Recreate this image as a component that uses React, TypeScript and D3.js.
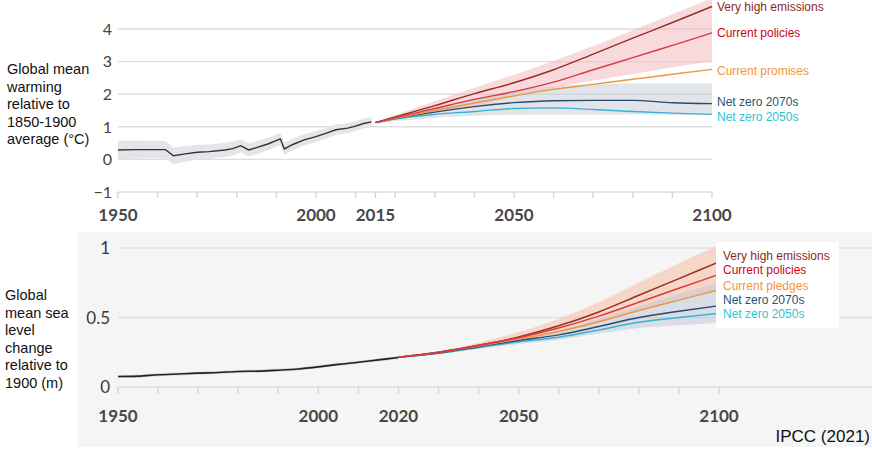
import React from "react";
import * as d3 from "d3";

// warming panel (top)
const histYears = [1950, 1954, 1958, 1962, 1964, 1967, 1970, 1973, 1977, 1979, 1981, 1983, 1985, 1988, 1991, 1992, 1994, 1997, 2000, 2003, 2005, 2008, 2010, 2012, 2014];
const histWarming = [0.29, 0.3, 0.3, 0.3, 0.11, 0.17, 0.22, 0.24, 0.29, 0.33, 0.42, 0.29, 0.36, 0.48, 0.63, 0.32, 0.45, 0.6, 0.7, 0.82, 0.91, 0.96, 1.02, 1.1, 1.15];
const histSpread = [0.28, 0.28, 0.27, 0.27, 0.25, 0.24, 0.23, 0.22, 0.22, 0.21, 0.2, 0.2, 0.2, 0.19, 0.18, 0.18, 0.18, 0.17, 0.17, 0.16, 0.16, 0.15, 0.15, 0.15, 0.15];

const scenYears = [2015, 2020, 2030, 2040, 2050, 2060, 2070, 2080, 2090, 2100];
const veryHigh = [1.13, 1.3, 1.65, 2.02, 2.35, 2.75, 3.23, 3.72, 4.2, 4.69];
const currentPolicies = [1.13, 1.28, 1.56, 1.84, 2.08, 2.37, 2.75, 3.12, 3.5, 3.88];
const currentPromises = [1.13, 1.26, 1.5, 1.73, 1.95, 2.15, 2.3, 2.46, 2.61, 2.76];
const netZero2070 = [1.13, 1.25, 1.45, 1.62, 1.74, 1.8, 1.81, 1.81, 1.74, 1.71];
const netZero2050 = [1.13, 1.24, 1.38, 1.47, 1.56, 1.58, 1.53, 1.47, 1.42, 1.38];
const highBandTop = [1.15, 1.36, 1.78, 2.2, 2.6, 3.02, 3.48, 3.96, 4.45, 4.95];
const highBandBottom = [1.11, 1.22, 1.42, 1.62, 1.92, 2.2, 2.42, 2.62, 2.82, 3.0];
const lowBandTop = [1.15, 1.32, 1.6, 1.88, 2.1, 2.25, 2.3, 2.33, 2.33, 2.33];
const lowBandBottom = [1.11, 1.17, 1.28, 1.34, 1.37, 1.38, 1.38, 1.38, 1.37, 1.36];

const warmTicksY = [-1, 0, 1, 2, 3, 4];
const warmLabelYears = [1950, 2000, 2015, 2050, 2100];

// sea level panel (bottom)
const seaHistYears = [1950, 1955, 1960, 1965, 1970, 1975, 1980, 1985, 1990, 1995, 2000, 2005, 2010, 2015, 2020];
const seaHist = [0.075, 0.078, 0.088, 0.094, 0.1, 0.104, 0.112, 0.114, 0.121, 0.13, 0.145, 0.163, 0.178, 0.195, 0.212];

const seaYears = [2020, 2030, 2040, 2050, 2060, 2070, 2080, 2090, 2100];
const seaVeryHigh = [0.214, 0.25, 0.3, 0.36, 0.44, 0.54, 0.66, 0.78, 0.9];
const seaCurrentPolicies = [0.214, 0.25, 0.3, 0.355, 0.425, 0.51, 0.61, 0.71, 0.81];
const seaPledges = [0.214, 0.248, 0.295, 0.345, 0.4, 0.47, 0.55, 0.625, 0.7];
const seaNetZero2070 = [0.214, 0.245, 0.29, 0.335, 0.375, 0.435, 0.5, 0.545, 0.585];
const seaNetZero2050 = [0.214, 0.243, 0.285, 0.325, 0.358, 0.41, 0.465, 0.5, 0.53];
const seaHighTop = [0.216, 0.258, 0.318, 0.395, 0.49, 0.61, 0.75, 0.89, 1.02];
const seaHighBottom = [0.212, 0.24, 0.28, 0.33, 0.39, 0.46, 0.55, 0.63, 0.7];
const seaLowTop = [0.216, 0.25, 0.295, 0.345, 0.41, 0.49, 0.58, 0.67, 0.75];
const seaLowBottom = [0.212, 0.237, 0.273, 0.31, 0.34, 0.385, 0.425, 0.445, 0.46];

const seaTicksY = [0, 0.5, 1];
const seaLabelYears = [1950, 2000, 2020, 2050, 2100];

const warmTitle = ["Global mean", "warming", "relative to", "1850-1900", "average (°C)"];
const seaTitle = ["Global", "mean sea", "level", "change", "relative to", "1900 (m)"];

const warmLegend = ["Very high emissions", "Current policies", "Current promises", "Net zero 2070s", "Net zero 2050s"];
const seaLegend = ["Very high emissions", "Current policies", "Current pledges", "Net zero 2070s", "Net zero 2050s"];

const lineColors = ["#9a2c24", "#d93a42", "#f0963c", "#2b4a6c", "#39b2d9"];
const labelColors = ["#8b2b1e", "#d0021b", "#f7943a", "#1c5478", "#2cc5cf"];
// draw order so the red "current policies" line ends up on top
const drawOrder = [4, 3, 2, 0, 1];

const tickFont = "Lato, 'DejaVu Sans', sans-serif";
const textFont = "'Liberation Sans', Arial, sans-serif";

export default function App() {
  // top scales
  const xT = d3.scaleLinear().domain([1950, 2100]).range([118, 712]);
  const yT = d3.scaleLinear().domain([-1, 4]).range([192, 29]);
  // bottom scales
  const xB = d3.scaleLinear().domain([1950, 2100]).range([118, 719]);
  const yB = d3.scaleLinear().domain([0, 1]).range([387, 248]);

  const lineT = (ys: number[], xs: number[], curve = d3.curveMonotoneX) =>
    d3.line<number>().x((_, i) => xT(xs[i])).y((d) => yT(d)).curve(curve)(ys) || "";
  const areaT = (lo: number[], hi: number[], xs: number[], curve = d3.curveMonotoneX) =>
    d3.area<number>().x((_, i) => xT(xs[i])).y0((_, i) => yT(lo[i])).y1((d) => yT(d)).curve(curve)(hi) || "";
  const lineB = (ys: number[], xs: number[]) =>
    d3.line<number>().x((_, i) => xB(xs[i])).y((d) => yB(d)).curve(d3.curveMonotoneX)(ys) || "";
  const areaB = (lo: number[], hi: number[], xs: number[]) =>
    d3.area<number>().x((_, i) => xB(xs[i])).y0((_, i) => yB(lo[i])).y1((d) => yB(d)).curve(d3.curveMonotoneX)(hi) || "";

  const histLo = histWarming.map((v, i) => v - histSpread[i]);
  const histHi = histWarming.map((v, i) => v + histSpread[i]);

  const warmSeries = [veryHigh, currentPolicies, currentPromises, netZero2070, netZero2050];
  const seaSeries = [seaVeryHigh, seaCurrentPolicies, seaPledges, seaNetZero2070, seaNetZero2050];

  const tickYearsT = d3.range(1950, 2101, 10).concat([2015]);
  const tickYearsB = d3.range(1950, 2101, 10);

  const warmLabelY = [10.5, 36.7, 74.6, 106.3, 121.3];
  const seaLabelY = [259.5, 273.5, 289.5, 304, 318];

  return (
    <svg width={872} height={450} style={{ position: "absolute", left: 0, top: 0 }}>
      <rect x={0} y={0} width={872} height={450} fill="#fff" />

      {/* ---------- top panel ---------- */}
      {warmTicksY.map((t) => (
        <g key={t}>
          <line x1={118} x2={712} y1={yT(t)} y2={yT(t)} stroke="#dedede" strokeWidth={1.4} />
          <text x={112} y={yT(t)} dy="0.36em" textAnchor="end" fontFamily={tickFont} fontSize={16} fill="#444">
            {t < 0 ? "\u2212" + Math.abs(t) : t}
          </text>
        </g>
      ))}
      {tickYearsT.map((yr) => (
        <line key={yr} x1={xT(yr)} x2={xT(yr)} y1={yT(-1)} y2={yT(-1) + 6} stroke="#d4d4d4" strokeWidth={1.4} />
      ))}
      {warmLabelYears.map((yr) => (
        <text key={yr} x={xT(yr)} y={221} textAnchor="middle" fontFamily={tickFont} fontWeight={700} fontSize={17} fill="#484848">
          {yr}
        </text>
      ))}

      <path d={areaT(histLo, histHi, histYears, d3.curveLinear)} fill="#e4e5e8" />
      <path d={lineT(histWarming, histYears, d3.curveLinear)} fill="none" stroke="#333" strokeWidth={1.4} />

      <path d={areaT(highBandBottom, highBandTop, scenYears)} fill="#f3b5ba" fillOpacity={0.5} />
      <path d={areaT(lowBandBottom, lowBandTop, scenYears)} fill="#c9ced6" fillOpacity={0.55} />
      {drawOrder.map((i) => (
        <path key={i} d={lineT(warmSeries[i], scenYears)} fill="none" stroke={lineColors[i]} strokeWidth={1.4} />
      ))}
      {warmLegend.map((l, i) => (
        <text key={l} x={717} y={warmLabelY[i]} fontFamily={textFont} fontSize={12} fill={labelColors[i]}>
          {l}
        </text>
      ))}

      {warmTitle.map((l, i) => (
        <text key={l} x={7} y={74 + i * 17.5} fontFamily={textFont} fontSize={14.5} fill="#111">
          {l}
        </text>
      ))}

      {/* ---------- bottom panel ---------- */}
      <rect x={78} y={232} width={794} height={215} fill="#f4f5f4" />
      {seaTicksY.map((t) => (
        <g key={t}>
          <line x1={118} x2={872} y1={yB(t)} y2={yB(t)} stroke="#e0e1e0" strokeWidth={1.4} />
          <text x={110} y={yB(t)} dy="0.36em" textAnchor="end" fontFamily={tickFont} fontSize={17} fill="#3a3a3a">
            {t}
          </text>
        </g>
      ))}
      {tickYearsB.map((yr) => (
        <line key={yr} x1={xB(yr)} x2={xB(yr)} y1={yB(0)} y2={yB(0) + 7} stroke="#d6d6d6" strokeWidth={1.4} />
      ))}
      {seaLabelYears.map((yr) => (
        <text key={yr} x={xB(yr)} y={422} textAnchor="middle" fontFamily={tickFont} fontWeight={700} fontSize={17} fill="#484848">
          {yr}
        </text>
      ))}

      <path d={lineB(seaHist, seaHistYears)} fill="none" stroke="#bbb" strokeWidth={3} strokeOpacity={0.5} />
      <path d={lineB(seaHist, seaHistYears)} fill="none" stroke="#222" strokeWidth={1.6} />

      <path d={areaB(seaHighBottom, seaHighTop, seaYears)} fill="#f6c2a8" fillOpacity={0.6} />
      <path d={areaB(seaLowBottom, seaLowTop, seaYears)} fill="#c3c9d8" fillOpacity={0.55} />
      {drawOrder.map((i) => (
        <path key={i} d={lineB(seaSeries[i], seaYears)} fill="none" stroke={lineColors[i]} strokeWidth={1.5} />
      ))}

      <rect x={716} y={242} width={123} height={86} fill="#fff" />
      {seaLegend.map((l, i) => (
        <text key={l} x={723} y={seaLabelY[i]} fontFamily={textFont} fontSize={12} fill={labelColors[i]}>
          {l}
        </text>
      ))}

      {seaTitle.map((l, i) => (
        <text key={l} x={5} y={300 + i * 17.6} fontFamily={textFont} fontSize={14.5} fill="#111">
          {l}
        </text>
      ))}

      <text x={870} y={442} textAnchor="end" fontFamily={textFont} fontSize={17} fill="#111">
        IPCC (2021)
      </text>
    </svg>
  );
}
